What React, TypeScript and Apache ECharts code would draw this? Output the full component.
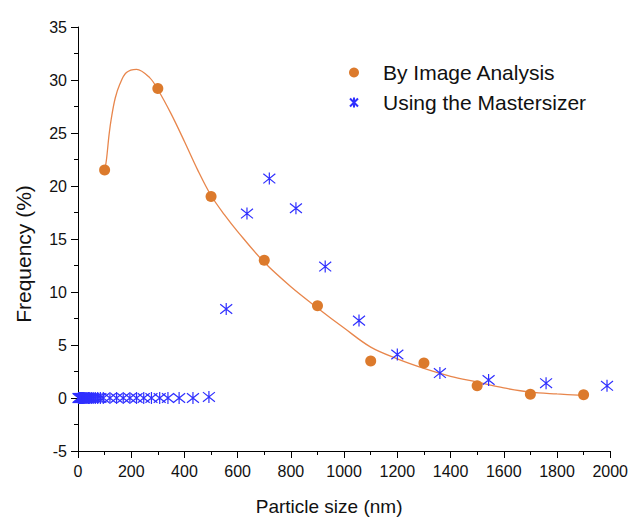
import React, { useEffect, useRef } from "react";
import * as echarts from "echarts";

// By Image Analysis (particle size nm, frequency %)
const imageX = [100, 300, 500, 700, 900, 1100, 1300, 1500, 1700, 1900];
const imageY = [21.5, 29.2, 19.0, 13.0, 8.7, 3.5, 3.3, 1.15, 0.35, 0.3];

// Fitted curve through image-analysis data
const fitX = [100, 107, 117, 126, 140, 157, 182, 220, 270, 300, 350, 400, 450, 500, 550, 600, 700, 800, 900, 1000, 1100, 1200, 1300, 1400, 1500, 1600, 1700, 1800, 1900];
const fitY = [21.4, 22.5, 24.9, 26.5, 28.3, 29.6, 30.7, 31.0, 30.2, 29.1, 26.8, 24.2, 21.5, 19.1, 17.3, 15.7, 12.8, 10.5, 8.5, 6.6, 4.8, 3.7, 2.8, 2.05, 1.5, 0.95, 0.55, 0.38, 0.25];

// Using the Mastersizer
const masterX = [2, 4, 6, 8, 10, 12, 14, 16, 18, 20, 23, 26, 30, 34, 39, 44, 50, 57, 65, 74, 84, 95, 120, 145, 170, 195, 220, 247, 276, 307, 338, 380, 432, 492,
  557, 635, 719, 819, 929, 1056, 1200, 1360, 1543, 1759, 1988];
const masterY = [0, 0, 0, 0, 0, 0, 0, 0, 0, 0, 0, 0, 0, 0, 0, 0, 0, 0, 0, 0, 0, 0, 0, 0, 0, 0, 0, 0, 0, 0, 0, 0, 0, 0.1,
  8.4, 17.4, 20.7, 17.9, 12.4, 7.3, 4.1, 2.35, 1.7, 1.4, 1.15];

const xTicks = { min: 0, max: 2000, interval: 200 };
const yTicks = { min: -5, max: 35, interval: 5 };

const ORANGE = "#DC7A2C";
const LINE = "#E8864C";
const BLUE = "#2F2FFF";
const FONT = "Liberation Sans, Arial, sans-serif";

const asterisk = "path://M5,0L5,10M1,1L9,9M1,9L9,1";

export default function App() {
  const ref = useRef<HTMLDivElement>(null);
  useEffect(() => {
    if (!ref.current) return;
    const chart = echarts.init(ref.current, null, { renderer: "svg" });
    const axisCommon = {
      axisLine: { show: true, onZero: false, lineStyle: { color: "#000", width: 1 } },
      axisTick: { show: true, inside: false, length: 7, lineStyle: { color: "#000" } },
      minorTick: { show: true, splitNumber: 2, length: 4, lineStyle: { color: "#000" } },
      splitLine: { show: false },
      nameLocation: "middle" as const,
    };
    chart.setOption({
      animation: false,
      backgroundColor: "#fff",
      grid: { left: 78, right: 19, top: 27, bottom: 68, containLabel: false },
      legend: {
        orient: "vertical",
        left: 344,
        top: 57,
        itemWidth: 48,
        itemHeight: 10,
        itemGap: 9,
        textStyle: { fontFamily: FONT, fontSize: 21, lineHeight: 21, color: "#111" },
        data: ["By Image Analysis", "Using the Mastersizer"],
      },
      xAxis: {
        type: "value",
        ...axisCommon,
        min: xTicks.min,
        max: xTicks.max,
        interval: xTicks.interval,
        name: "Particle size (nm)",
        nameGap: 46,
        nameTextStyle: { fontFamily: FONT, fontSize: 19, color: "#111", padding: [0, 30, 0, 0] },
        axisLabel: { fontFamily: FONT, fontSize: 16, color: "#111", margin: 12, formatter: (v: number) => String(v) },
      },
      yAxis: {
        type: "value",
        ...axisCommon,
        min: yTicks.min,
        max: yTicks.max,
        interval: yTicks.interval,
        name: "Frequency (%)",
        nameGap: 44,
        nameTextStyle: { fontFamily: FONT, fontSize: 21, color: "#111", padding: [0, 30, 0, 0] },
        axisLabel: { fontFamily: FONT, fontSize: 16, color: "#111", margin: 11, formatter: (v: number) => String(v) },
      },
      series: [
        {
          name: "fit",
          type: "line",
          data: fitX.map((x, i) => [x, fitY[i]]),
          smooth: 0.35,
          showSymbol: false,
          symbol: "none",
          lineStyle: { color: LINE, width: 1.3 },
          z: 1,
          silent: true,
        },
        {
          name: "By Image Analysis",
          type: "scatter",
          data: imageX.map((x, i) => [x, imageY[i]]),
          symbol: "circle",
          symbolSize: 11,
          itemStyle: { color: ORANGE, opacity: 1 },
          z: 3,
        },
        {
          name: "Using the Mastersizer",
          type: "scatter",
          data: masterX.map((x, i) => [x, masterY[i]]),
          symbol: asterisk,
          symbolSize: 12,
          itemStyle: { color: BLUE, borderColor: BLUE, borderWidth: 1.2, opacity: 1 },
          z: 2,
        },
      ],
    });
    return () => chart.dispose();
  }, []);
  return (
    <div
      ref={ref}
      style={{ position: "fixed", left: 0, top: 0, width: 631, height: 521, background: "#fff" }}
    />
  );
}
